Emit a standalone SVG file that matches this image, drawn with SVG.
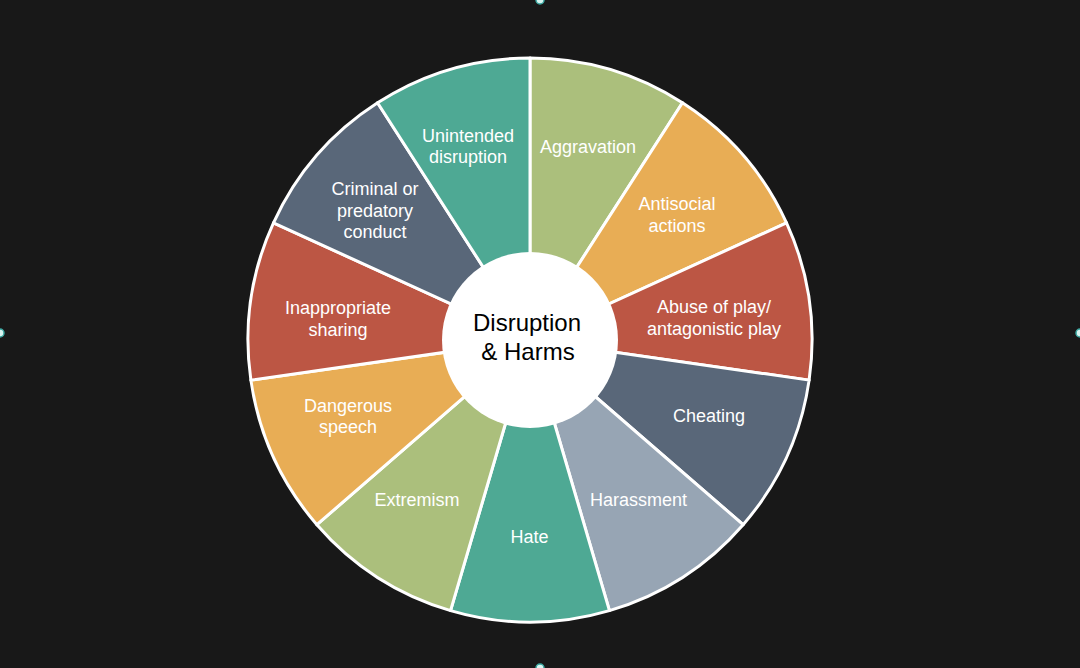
<svg xmlns="http://www.w3.org/2000/svg" width="1080" height="668" viewBox="0 0 1080 668">
<style>
.seg{stroke:#ffffff;stroke-width:3;stroke-linejoin:round}
.teal{fill:#4ea994}.green{fill:#abbf7c}.orange{fill:#e8ad55}.red{fill:#bc5644}.slate{fill:#596779}.lslate{fill:#97a5b4}
.lbl{font-family:"Liberation Sans",Arial,sans-serif;font-size:18px;fill:#ffffff;text-anchor:middle}
.ctr{font-family:"Liberation Sans",Arial,sans-serif;font-size:24px;fill:#000000;text-anchor:middle}
.handle{fill:#d8f4f0;stroke:#3aa6a0;stroke-width:1.5}
</style>
<rect width="1080" height="668" fill="#181818"/>
<g id="aggravation"><path class="seg green" d="M530 340 L530 58 A282 282 0 0 1 682.46 102.77 Z"/><text class="lbl" x="588" y="152.5">Aggravation</text></g>
<g id="antisocial"><path class="seg orange" d="M530 340 L682.46 102.77 A282 282 0 0 1 786.52 222.85 Z"/><text class="lbl" x="677" y="210">Antisocial</text><text class="lbl" x="677" y="231.5">actions</text></g>
<g id="abuse"><path class="seg red" d="M530 340 L786.52 222.85 A282 282 0 0 1 809.13 380.13 Z"/><text class="lbl" x="714" y="313">Abuse of play/</text><text class="lbl" x="714" y="335">antagonistic play</text></g>
<g id="cheating"><path class="seg slate" d="M530 340 L809.13 380.13 A282 282 0 0 1 743.12 524.67 Z"/><text class="lbl" x="709" y="422">Cheating</text></g>
<g id="harassment"><path class="seg lslate" d="M530 340 L743.12 524.67 A282 282 0 0 1 609.45 610.58 Z"/><text class="lbl" x="638.5" y="506">Harassment</text></g>
<g id="hate"><path class="seg teal" d="M530 340 L609.45 610.58 A282 282 0 0 1 450.55 610.58 Z"/><text class="lbl" x="529.5" y="543">Hate</text></g>
<g id="extremism"><path class="seg green" d="M530 340 L450.55 610.58 A282 282 0 0 1 316.88 524.67 Z"/><text class="lbl" x="417" y="506">Extremism</text></g>
<g id="dangerous"><path class="seg orange" d="M530 340 L316.88 524.67 A282 282 0 0 1 250.87 380.13 Z"/><text class="lbl" x="348" y="411.5">Dangerous</text><text class="lbl" x="348" y="433">speech</text></g>
<g id="inappropriate"><path class="seg red" d="M530 340 L250.87 380.13 A282 282 0 0 1 273.48 222.85 Z"/><text class="lbl" x="338" y="314.3">Inappropriate</text><text class="lbl" x="338" y="335.8">sharing</text></g>
<g id="criminal"><path class="seg slate" d="M530 340 L273.48 222.85 A282 282 0 0 1 377.54 102.77 Z"/><text class="lbl" x="375" y="195">Criminal or</text><text class="lbl" x="375" y="216.5">predatory</text><text class="lbl" x="375" y="238">conduct</text></g>
<g id="unintended"><path class="seg teal" d="M530 340 L377.54 102.77 A282 282 0 0 1 530 58 Z"/><text class="lbl" x="468" y="141.5">Unintended</text><text class="lbl" x="468" y="163">disruption</text></g>
<g id="center"><circle cx="530" cy="340" r="88" fill="#ffffff"/><text class="ctr" x="527" y="331">Disruption</text><text class="ctr" x="528" y="360">&amp; Harms</text></g>
<g id="handles"><circle class="handle" cx="540" cy="0" r="4"/><circle class="handle" cx="0" cy="333" r="4"/><circle class="handle" cx="1080" cy="333" r="4"/><circle class="handle" cx="540" cy="668" r="4"/></g>
</svg>
